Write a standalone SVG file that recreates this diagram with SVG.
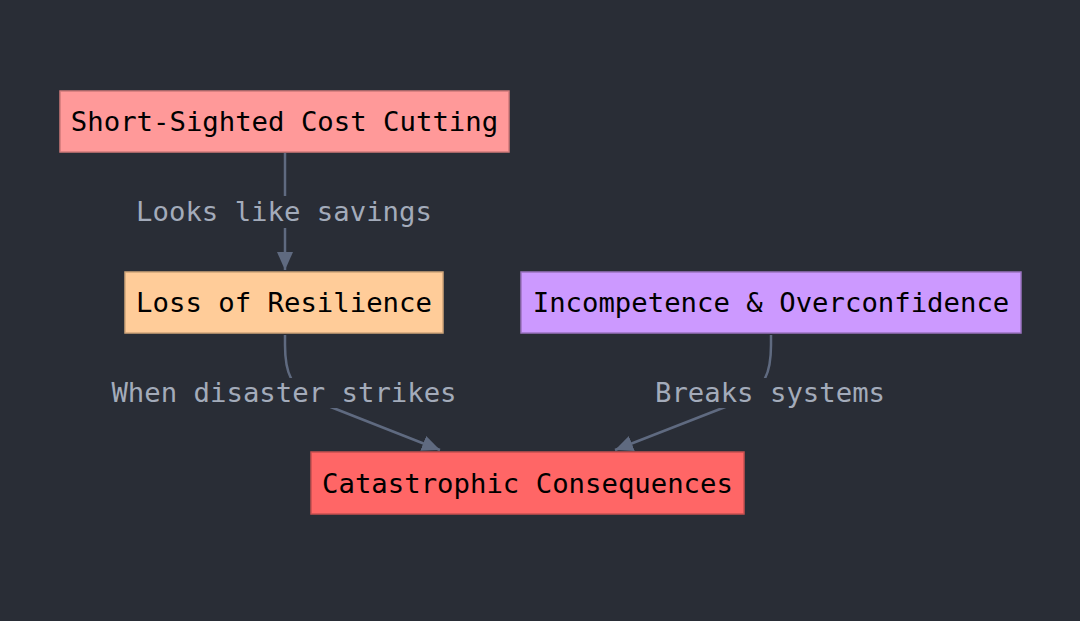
<svg xmlns="http://www.w3.org/2000/svg" width="1080" height="621" viewBox="0 0 1080 621">
<defs>
<style>
.node rect{stroke-width:1.5}
.node text{font-family:"DejaVu Sans Mono","Liberation Mono",monospace;font-size:27.3px;fill:#000;text-anchor:middle;dominant-baseline:central}
.edge{fill:none;stroke:#5f6a80;stroke-width:2.5}
.lbl rect{fill:#292d36}
.lbl text{font-family:"DejaVu Sans Mono","Liberation Mono",monospace;font-size:27.3px;fill:#a3abba;text-anchor:middle;dominant-baseline:central}
</style>
<marker id="arr" markerUnits="userSpaceOnUse" markerWidth="20" markerHeight="16" viewBox="0 0 20 16" refX="18" refY="8" orient="auto">
<path d="M0,0 L18,8 L0,16 Z" fill="#5f6a80"/>
</marker>
</defs>
<rect width="1080" height="621" fill="#292d36"/>
<g id="connectors">
<path class="edge" d="M285,153 L285,270" marker-end="url(#arr)"/>
<path class="edge" d="M285,335 L285,345 C285,372 290,388 318,402 L440,450" marker-end="url(#arr)"/>
<path class="edge" d="M771,335 L771,345 C771,372 766,388 738,402 L615,450" marker-end="url(#arr)"/>
<g class="lbl"><rect x="134" y="196" width="300" height="32"/><text x="284" y="211">Looks like savings</text></g>
<g class="lbl"><rect x="109" y="378" width="350" height="30"/><text x="284" y="392">When disaster strikes</text></g>
<g class="lbl"><rect x="653" y="378" width="234" height="30"/><text x="770" y="392">Breaks systems</text></g>
</g>
<g id="short" class="node"><rect x="60" y="91" width="449" height="61" fill="#ff9999" stroke="#d07a7a"/><text x="284.5" y="121.5">Short-Sighted Cost Cutting</text></g>
<g id="loss" class="node"><rect x="125" y="272" width="318" height="61" fill="#ffcc99" stroke="#d0a57a"/><text x="284" y="302.5">Loss of Resilience</text></g>
<g id="incomp" class="node"><rect x="521" y="272" width="500" height="61" fill="#cc99ff" stroke="#9a73c0"/><text x="771" y="302.5">Incompetence &amp; Overconfidence</text></g>
<g id="cat" class="node"><rect x="311" y="452" width="433" height="62" fill="#ff6666" stroke="#c85050"/><text x="527.5" y="483">Catastrophic Consequences</text></g>
</svg>
